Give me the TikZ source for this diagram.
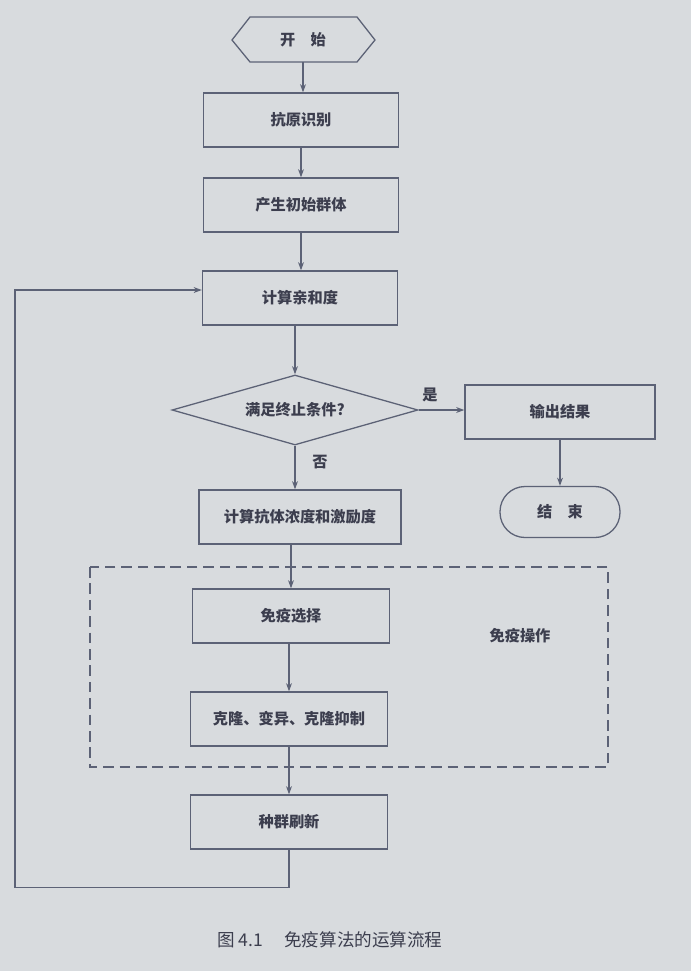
\documentclass[tikz,border=0pt]{standalone}
\usepackage{fontspec}
\setmainfont{Noto Sans CJK SC}
\usetikzlibrary{shapes.geometric,arrows.meta}
\definecolor{bg}{RGB}{216,219,222}
\definecolor{ln}{RGB}{92,98,118}
\definecolor{tx}{RGB}{60,62,78}
\tikzset{
  box/.style={draw=ln,line width=1.1pt,minimum width=195\pxu,minimum height=54\pxu,text=tx,font=\fontsize{13}{15}\selectfont\bfseries},
  lbl/.style={text=tx,font=\fontsize{13}{15}\selectfont\bfseries},
  arr/.style={draw=ln,line width=1.1pt,-{Stealth[length=7pt,width=5pt]}},
}
\newlength{\pxu}\setlength{\pxu}{0.03cm}
\begin{document}
\begin{tikzpicture}[x=0.03cm,y=-0.03cm]
\fill[bg] (0,0) rectangle (691,971);
\useasboundingbox (0,0) rectangle (691,971);
% start
\node[lbl] (s) at (303,40) {开\hspace{1em}始};
\draw[ln,line width=1.1pt] (232,40)--(250,17)--(357,17)--(375,40)--(357,62)--(250,62)--cycle;
\coordinate (sb) at (303,62);
\node[box] (a) at (301,120) {抗原识别};
\node[box] (b) at (301,205) {产生初始群体};
\node[box] (c) at (300,298) {计算亲和度};
\node[diamond,aspect=3.5,draw=ln,line width=1.1pt,inner sep=1pt,minimum width=246\pxu,minimum height=70\pxu,lbl] (d) at (295,410) {满足终止条件?};
\node[box,minimum width=190\pxu] (o) at (560,412) {输出结果};
\node[draw=ln,line width=1.1pt,rounded corners=25\pxu,minimum width=120\pxu,minimum height=51\pxu,lbl] (e) at (560,512) {结\hspace{1em}束};
\node[box,minimum width=202\pxu] (f) at (300,517) {计算抗体浓度和激励度};
\draw[ln,line width=1.1pt,dash pattern=on 9pt off 5pt] (90,567) rectangle (608,767);
\node[lbl] (imm) at (520,636) {免疫操作};
\node[box,minimum width=197\pxu] (g) at (291,616) {免疫选择};
\node[box,minimum width=197\pxu] (h) at (289,719) {克隆、变异、克隆抑制};
\node[box,minimum width=197\pxu] (i) at (289,822) {种群刷新};
\node[lbl] (yes) at (430,395) {是};
\node[lbl] (no) at (320,462) {否};
\node[text=tx,font=\fontsize{15}{17}\selectfont] (cap) at (330,940) {图 4.1\hspace{1.2em}免疫算法的运算流程};
\draw[arr] (sb)--(a.north -| sb);
\draw[arr] (a)--(b);
\draw[arr] (b.south)--(b.south|-c.north);
\draw[arr] (c.south-|d.north)--(d.north);
\draw[arr] (d.east)--(o.west|-d.east);
\draw[arr] (o)--(o.south|-e.north);
\draw[arr] (d.south)--(d.south|-f.north);
\draw[arr] (f.south-|g.north)--(g.north);
\draw[arr] (g.south-|h.north)--(h.north);
\draw[arr] (h)--(i);
\draw[arr] (i.south)--++(0,38)-|(15,290)--(c.west|-0,290);
\end{tikzpicture}
\end{document}
